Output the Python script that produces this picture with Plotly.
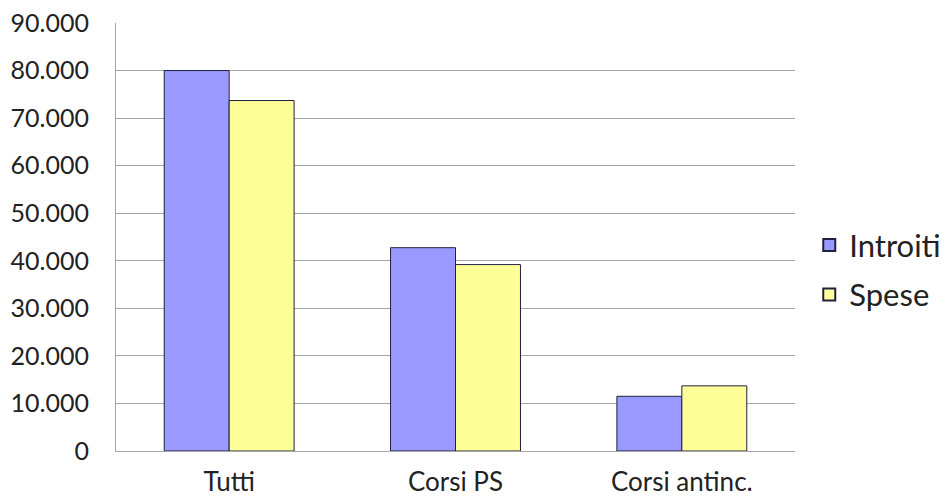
import plotly.graph_objects as go

categories = ["Tutti", "Corsi PS", "Corsi antinc."]
introiti = [80000, 42750, 11500]
spese = [73700, 39200, 13700]

font = "Lato, 'Noto Sans', sans-serif"
edge = "#202040"

fig = go.Figure()
fig.add_trace(go.Bar(name="Introiti", x=categories, y=introiti, legendgroup="a",
                     marker=dict(color="#9999FF", line=dict(color=edge, width=1))))
fig.add_trace(go.Bar(name="Spese", x=categories, y=spese, legendgroup="b",
                     marker=dict(color="#FFFF99", line=dict(color=edge, width=1))))

fig.update_layout(
    width=947, height=497,
    margin=dict(l=108, r=160, t=15, b=54, autoexpand=False),
    paper_bgcolor="white", plot_bgcolor="white",
    barmode="group", bargap=0.426, bargroupgap=0,
    separators=",.",
    font=dict(family=font, size=26, color="#222222"),
    legend=dict(x=1.021, y=0.423, xanchor="left", yanchor="middle",
                font=dict(size=31), itemsizing="constant", tracegroupgap=6),
    showlegend=True,
)
fig.update_yaxes(range=[0, 90000], dtick=10000, tickformat=",.0f",
                 showgrid=True, gridcolor="#A6A6A6", gridwidth=1,
                 showline=True, linecolor="#A6A6A6", linewidth=1,
                 zeroline=False, ticks="", ticklabelstandoff=21,
                 ticklabeloverflow="allow",
                 tickfont=dict(size=25), automargin=False)
fig.update_xaxes(showline=True, linecolor="#A6A6A6", linewidth=1,
                 ticks="", ticklabelstandoff=8, tickfont=dict(size=26),
                 ticklabeloverflow="allow", automargin=False)

fig.write_html("out.html")
